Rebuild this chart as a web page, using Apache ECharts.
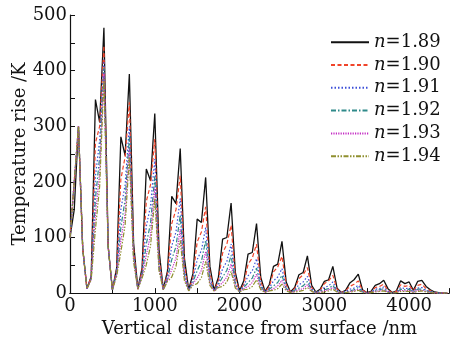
<!DOCTYPE html>
<html>
<head>
<meta charset="utf-8">
<script src="https://cdn.jsdelivr.net/npm/echarts@6/dist/echarts.min.js"></script>
<style>
html,body{margin:0;padding:0;background:#fff;}
#c{width:452px;height:343px;}
</style>
</head>
<body>
<div id="c"></div>
<script>
const distance = [0,50,100,150,200,
250,300,350,400,450,500,
550,600,650,700,750,800,
850,900,950,1000,1050,1100,
1150,1200,1250,1300,1350,1400,
1450,1500,1550,1600,1650,1700,
1750,1800,1850,1900,1950,2000,
2050,2100,2150,2200,2250,2300,
2350,2400,2450,2500,2550,2600,
2650,2700,2750,2800,2850,2900,
2950,3000,3050,3100,3150,3200,
3250,3300,3350,3400,3450,3500,
3550,3600,3650,3700,3750,3800,
3850,3900,3950,4000,4050,4100,
4150,4200,4250,4300,4350,4400,4450];

const n189 = [100,150,300,80,8,
30,348,307,477,84,6,
45,281,247,394,90,8,
45,223,202,323,78,7,
40,174,161,260,62,6,
35,133,127,208,48,5,
28,97,100,162,37,4,
22,70,73,125,28,3,
15,48,52,93,20,2,
10,33,37,67,14,2,
7,21,24,48,9,1,
5,18,24,34,6,1,
3,14,17,23,8,1,
4,22,17,20,5,21,
23,12,6,2,1,0,0];

const n190 = [100,200,300,80,8,
30,270,300,445,84,6,
42,205,245,343,80,7,
40,165,195,277,65,6,
35,125,150,211,50,5,
28,92,110,155,36,4,
22,72,88,122,28,3,
16,52,63,88,20,2,
11,38,47,66,15,2,
8,26,33,46,10,1,
5,17,22,32,7,1,
4,12,16,22,5,1,
2,10,12,16,5,1,
3,15,12,14,4,14,
16,8,4,1,1,0,0];

const n191 = [100,200,300,80,8,
28,210,275,420,84,6,
38,150,195,300,70,7,
35,120,157,241,55,6,
30,85,110,170,40,5,
24,60,77,118,27,4,
18,44,57,88,20,3,
13,31,40,62,14,2,
9,22,29,44,10,1,
6,15,20,30,7,1,
4,10,13,20,5,1,
3,7,9,14,3,0,
2,7,8,11,3,0,
2,10,8,9,3,9,
10,5,3,1,0,0,0];

const n192 = [100,200,300,80,8,
26,170,245,405,84,6,
35,118,168,280,65,7,
32,88,126,210,48,6,
26,60,84,140,33,5,
20,40,57,95,22,3,
15,29,41,68,16,2,
10,19,27,45,11,2,
7,13,19,32,8,1,
5,9,13,21,5,1,
3,6,8,14,3,0,
2,4,6,10,2,0,
1,5,6,8,2,0,
1,7,6,7,2,7,
7,4,2,1,0,0,0];

const n193 = [100,200,300,80,8,
25,142,217,395,84,6,
33,94,143,260,60,7,
30,68,105,190,44,6,
24,42,63,115,27,4,
17,27,41,75,18,3,
12,19,29,52,12,2,
8,12,19,34,8,1,
5,8,13,23,6,1,
3,6,8,15,4,0,
2,4,6,10,2,0,
1,3,4,7,2,0,
1,3,4,6,2,0,
1,5,4,5,1,5,
5,3,1,0,0,0,0];

const n194 = [100,200,300,80,8,
24,115,192,385,84,6,
30,74,122,245,56,7,
27,51,85,170,40,6,
21,29,48,95,22,4,
14,17,28,57,14,3,
10,12,20,39,9,2,
6,7,12,24,6,1,
4,5,8,16,4,1,
2,3,5,10,3,0,
1,2,4,7,2,0,
1,2,3,5,1,0,
1,2,3,4,1,0,
1,3,3,3,1,3,
4,2,1,0,0,0,0];

const seriesNames = ['n=1.89','n=1.90','n=1.91','n=1.92','n=1.93','n=1.94'];
const seriesData = [n189,n190,n191,n192,n193,n194];
const colors = ['#111111','#f0442a','#3c4fd8','#2f8a8a','#c42cc4','#8f8f2e'];
const dashes = ['solid',[4,2.5],[1.5,2],[5,2,1.5,2],[1.2,1.2],[5,1.5,1.5,1.5,1.5,1.5]];
const widths = [1.3,1.2,1.2,1.2,1.2,1.2];

const FONT = 'DejaVu Serif';
const FS = 18;

const series = seriesData.map((arr, k) => ({
  name: seriesNames[k],
  type: 'line',
  symbol: 'none',
  data: distance.map((x, i) => [x, arr[i]]),
  lineStyle: { color: colors[k], width: widths[k], type: dashes[k] },
  itemStyle: { color: colors[k] },
  z: 2 + k,
  animation: false
}));

const chart = echarts.init(document.getElementById('c'));
chart.setOption({
  animation: false,
  backgroundColor: '#fff',
  grid: { left: 70, top: 15, right: 0, bottom: 48, containLabel: false },
  legend: {
    orient: 'vertical',
    left: 330,
    top: 32,
    padding: 0,
    itemWidth: 38,
    itemHeight: 10,
    itemGap: 2.4,
    data: seriesNames,
    itemStyle: { opacity: 0 },
    formatter: function (name) { return '{i|n}{t|' + name.slice(1) + '}'; },
    textStyle: {
      fontFamily: FONT, fontSize: FS, color: '#111', lineHeight: 20.4,
      rich: {
        i: { fontFamily: FONT, fontStyle: 'italic', fontSize: FS, color: '#111', lineHeight: 20.4 },
        t: { fontFamily: FONT, fontSize: FS, color: '#111', lineHeight: 20.4 }
      }
    }
  },
  xAxis: [{
    type: 'value',
    min: 0, max: 4470, interval: 500,
    name: 'Vertical distance from surface /nm',
    nameLocation: 'middle', nameGap: 26,
    nameTextStyle: { fontFamily: FONT, fontSize: FS, color: '#111' },
    axisLine: { show: true, onZero: false, lineStyle: { color: '#111', width: 1.2 } },
    axisTick: { show: true, inside: true, length: 5, lineStyle: { color: '#111' } },
    splitLine: { show: false },
    axisLabel: {
      fontFamily: FONT, fontSize: FS, color: '#111', margin: 4,
      formatter: v => (v % 1000 === 0 ? String(v) : '')
    }
  }, {
    type: 'value', position: 'top', min: 0, max: 4470,
    axisLine: { show: true, lineStyle: { color: '#111', width: 1.2 } },
    axisTick: { show: false }, axisLabel: { show: false }, splitLine: { show: false }
  }],
  yAxis: {
    type: 'value',
    min: 0, max: 500, interval: 100,
    name: 'Temperature rise /K',
    nameLocation: 'middle', nameGap: 41,
    nameMoveOverlap: false,
    nameTextStyle: { fontFamily: FONT, fontSize: FS, color: '#111' },
    axisLine: { show: true, lineStyle: { color: '#111', width: 1.2 } },
    axisTick: { show: true, inside: true, length: 5, lineStyle: { color: '#111' } },
    minorTick: { show: true, splitNumber: 2, length: 5, lineStyle: { color: '#111' } },
    splitLine: { show: false },
    axisLabel: { fontFamily: FONT, fontSize: FS, color: '#111', margin: 3 }
  },
  series: series
});
</script>
</body>
</html>
